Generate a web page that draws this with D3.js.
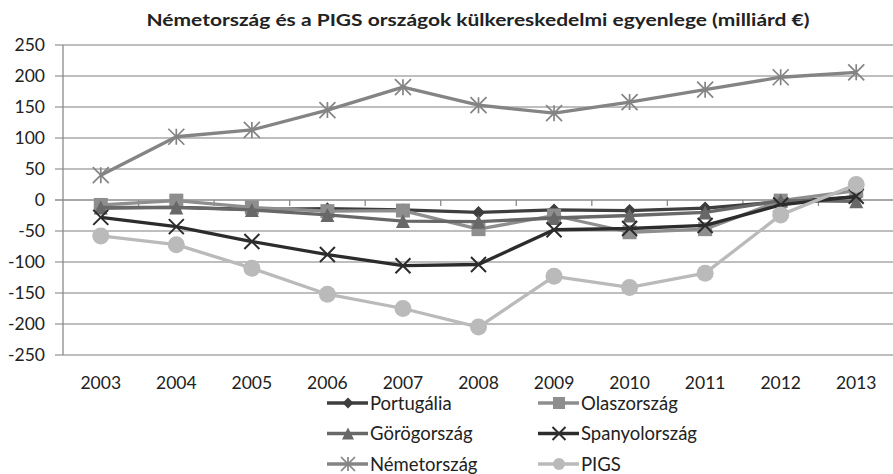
<!DOCTYPE html>
<html>
<head>
<meta charset="utf-8">
<script src="https://cdn.jsdelivr.net/npm/d3@7"></script>
<style>
  body { margin: 0; background: #fff; }
  text { font-family: Lato, "Open Sans", sans-serif; fill: #222; }
</style>
</head>
<body>
<div id="chart"></div>
<script>
// years and series (milliard EUR)
var years = ['2003', '2004', '2005', '2006', '2007', '2008', '2009', '2010', '2011', '2012', '2013'];
var portugalia = [-13, -12, -15, -14, -16, -20, -16, -17, -13, -3, 5];
var olaszorszag = [-8, -1, -12, -18, -17, -47, -25, -52, -47, -1, 15];
var gorogorszag = [-12, -12, -16, -24, -34, -35, -29, -25, -20, -1, -2];
var spanyolorszag = [-28, -43, -67, -88, -106, -104, -48, -46, -41, -8, 6];
var nemetorszag = [40, 102, 113, 145, 182, 153, 140, 158, 178, 198, 206];
var pigs = [-58, -72, -110, -152, -175, -205, -123, -141, -118, -24, 25];
var yTicks = [250, 200, 150, 100, 50, 0, -50, -100, -150, -200, -250];

var series = [
  { name: 'Portugália', values: portugalia, color: '#3e3e3e', marker: 'diamond' },
  { name: 'Olaszország', values: olaszorszag, color: '#8e8e8e', marker: 'square' },
  { name: 'Görögország', values: gorogorszag, color: '#686868', marker: 'triangle' },
  { name: 'Spanyolország', values: spanyolorszag, color: '#2c2c2c', marker: 'x' },
  { name: 'Németország', values: nemetorszag, color: '#848484', marker: 'star' },
  { name: 'PIGS', values: pigs, color: '#bababa', marker: 'circle' }
];

var width = 893, height = 474;
var svg = d3.select('#chart').append('svg')
  .attr('width', width)
  .attr('height', height);

var x = d3.scaleBand().domain(years).range([63, 894]).paddingInner(0).paddingOuter(0);
var y = d3.scaleLinear().domain([-250, 250]).range([355, 45]);
function cx(i) { return x(years[i]) + x.bandwidth() / 2; }

svg.append('text')
  .attr('x', 478)
  .attr('y', 26)
  .attr('text-anchor', 'middle')
  .attr('textLength', 663)
  .attr('lengthAdjust', 'spacingAndGlyphs')
  .style('font-size', '17px')
  .style('font-weight', 'bold')
  .text('Németország és a PIGS országok  külkereskedelmi egyenlege (milliárd €)');

// gridlines
svg.append('g').selectAll('line.grid').data(yTicks)
  .enter().append('line')
  .attr('class', 'grid')
  .attr('x1', 55)
  .attr('x2', 894)
  .attr('y1', function(d) { return y(d); })
  .attr('y2', function(d) { return y(d); })
  .attr('stroke', function(d) { return d === 0 ? '#8a8a8a' : '#a8a8a8'; })
  .attr('stroke-width', 1.3);

svg.append('line')
  .attr('x1', 63).attr('x2', 63)
  .attr('y1', y(250)).attr('y2', y(-250))
  .attr('stroke', '#8a8a8a').attr('stroke-width', 1.3);

// category ticks on the zero line
svg.append('g').selectAll('line.xt').data(years.slice(1))
  .enter().append('line')
  .attr('x1', function(d) { return x(d); })
  .attr('x2', function(d) { return x(d); })
  .attr('y1', y(0))
  .attr('y2', y(0) + 6)
  .attr('stroke', '#8a8a8a').attr('stroke-width', 1.3);

svg.append('g').selectAll('text.yl').data(yTicks)
  .enter().append('text')
  .attr('x', 45)
  .attr('y', function(d) { return y(d) + 6; })
  .attr('text-anchor', 'end')
  .style('font-size', '17.5px')
  .text(function(d) { return d; });

svg.append('g').selectAll('text.xl').data(years)
  .enter().append('text')
  .attr('x', function(d) { return x(d) + x.bandwidth() / 2; })
  .attr('y', 389)
  .attr('text-anchor', 'middle')
  .style('font-size', '17.5px')
  .text(function(d) { return d; });

function drawMarker(g, type, color, s) {
  var h = s / 2;
  if (type === 'diamond') {
    g.append('path').attr('d', 'M0,' + (-h) + 'L' + h + ',0L0,' + h + 'L' + (-h) + ',0Z').attr('fill', color);
  } else if (type === 'square') {
    g.append('rect').attr('x', -h).attr('y', -h).attr('width', s).attr('height', s).attr('fill', color);
  } else if (type === 'triangle') {
    g.append('path').attr('d', 'M0,' + (-h) + 'L' + h + ',' + h + 'L' + (-h) + ',' + h + 'Z').attr('fill', color);
  } else if (type === 'circle') {
    g.append('circle').attr('r', h).attr('fill', color);
  } else if (type === 'x') {
    g.append('path').attr('d', 'M' + (-h) + ',' + (-h) + 'L' + h + ',' + h + 'M' + h + ',' + (-h) + 'L' + (-h) + ',' + h)
      .attr('stroke', color).attr('stroke-width', 2).attr('fill', 'none');
  } else if (type === 'star') {
    g.append('path').attr('d', 'M' + (-h) + ',' + (-h) + 'L' + h + ',' + h + 'M' + h + ',' + (-h) + 'L' + (-h) + ',' + h +
      'M0,' + (-h) + 'L0,' + h)
      .attr('stroke', color).attr('stroke-width', 1.7).attr('fill', 'none');
  }
}

var markerSize = { diamond: 13, square: 14, triangle: 14, x: 15, star: 16, circle: 17 };
var legendSize = { diamond: 11, square: 12, triangle: 12, x: 13, star: 14, circle: 12 };

var line = d3.line()
  .x(function(d, i) { return cx(i); })
  .y(function(d) { return y(d); });

series.forEach(function(s) {
  var g = svg.append('g');
  g.append('path')
    .attr('d', line(s.values))
    .attr('fill', 'none')
    .attr('stroke', s.color)
    .attr('stroke-width', 3.3)
    .attr('stroke-linejoin', 'round');
  s.values.forEach(function(v, i) {
    var m = g.append('g').attr('transform', 'translate(' + cx(i) + ',' + y(v) + ')');
    drawMarker(m, s.marker, s.color, markerSize[s.marker]);
  });
});

// legend, two columns
var legend = svg.append('g');
series.forEach(function(s, i) {
  var col = i % 2, row = Math.floor(i / 2);
  var lx = col === 0 ? 327 : 538;
  var ly = 403 + row * 30.5;
  var g = legend.append('g').attr('transform', 'translate(' + lx + ',' + ly + ')');
  g.append('line').attr('x1', 0).attr('x2', 41).attr('y1', 0).attr('y2', 0)
    .attr('stroke', s.color).attr('stroke-width', 3.3);
  drawMarker(g.append('g').attr('transform', 'translate(21,0)'), s.marker, s.color, legendSize[s.marker]);
  g.append('text').attr('x', 43).attr('y', 6.5)
    .style('font-size', '18.5px')
    .text(s.name);
});
</script>
</body>
</html>
